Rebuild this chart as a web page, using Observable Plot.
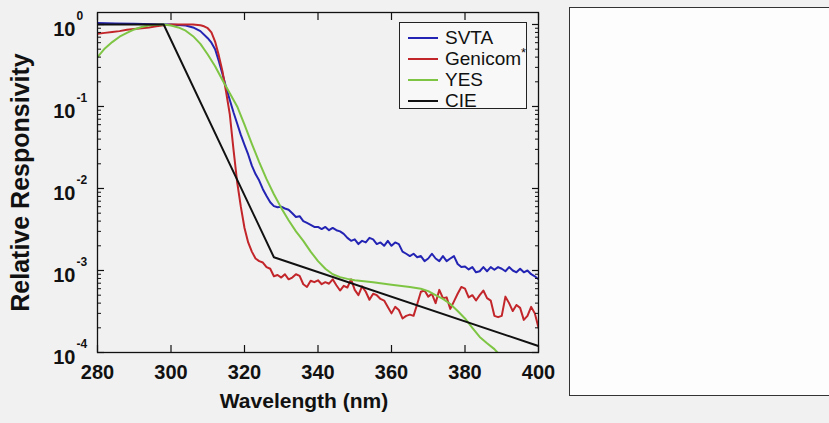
<!DOCTYPE html>
<html>
<head>
<meta charset="utf-8">
<script src="https://cdn.jsdelivr.net/npm/d3@7"></script>
<script src="https://cdn.jsdelivr.net/npm/@observablehq/plot@0.6"></script>
<style>
  html, body { margin: 0; padding: 0; }
  body { width: 829px; height: 423px; background: #f1f1f1; position: relative; overflow: hidden; font-family: "Liberation Sans", Arial, sans-serif; }
  #box { position: absolute; left: 569px; top: 7px; width: 270px; height: 387px; background: #fdfdfd; border: 1px solid #333; }
  #chart { position: absolute; left: 0; top: 0; }
  #legend { position: absolute; left: 399px; top: 22px; width: 126px; height: 85px; border: 1px solid #222; background: #f8f8f8; font-size: 19px; color: #111; }
  #legend .row { position: absolute; left: 0; width: 126px; height: 21px; line-height: 21px; white-space: nowrap; }
  #legend .sw { position: absolute; left: 8px; top: 10px; width: 30px; height: 2px; }
  #legend .lab { position: absolute; left: 45px; top: 0; height: 21px; line-height: 21px; }
  #legend sup { font-size: 13px; line-height: 0; vertical-align: 0; position: relative; top: -8px; }
</style>
</head>
<body>
<div id="box"></div>
<div id="chart"></div>
<div id="legend"></div>
<script>
// ---- data ----
const seriesNames = ["SVTA", "Genicom", "YES", "CIE"];
const seriesColors = ["#2424b4", "#c2252a", "#7ec544", "#111111"];

const cieWl = [280, 298, 328, 400];
const cieVal = [1, 1, 0.00145, 0.00012];

const svtaWl = [280, 285, 290, 295, 300, 304, 306, 308, 310, 311, 312, 313, 314, 315, 316, 317, 318, 319, 320, 321, 322, 323, 324, 325, 326, 327, 328, 329, 330, 331, 332, 333, 334, 335, 336, 337, 338, 339, 340, 341, 342, 343, 344, 345, 346, 347, 348, 349, 350, 351, 352, 353, 354, 355, 356, 357, 358, 359, 360, 361, 362, 363, 364, 365, 366, 367, 368, 369, 370, 371, 372, 373, 374, 375, 376, 377, 378, 379, 380, 381, 382, 383, 384, 385, 386, 387, 388, 389, 390, 391, 392, 393, 394, 395, 396, 397, 398, 399, 400];
const svtaVal = [1.04, 1.03, 1.02, 1.01, 1.0, 0.97, 0.92, 0.83, 0.68, 0.6, 0.5, 0.36, 0.25, 0.17, 0.12, 0.085, 0.062, 0.045, 0.034, 0.026, 0.019, 0.015, 0.0125, 0.0098, 0.0081, 0.0068, 0.0061, 0.0059, 0.006, 0.0057, 0.0055, 0.005, 0.0045, 0.0046, 0.004, 0.0038, 0.0036, 0.0034, 0.0034, 0.0032, 0.0034, 0.0031, 0.0033, 0.0031, 0.003, 0.0028, 0.0025, 0.0023, 0.0024, 0.0021, 0.0023, 0.0022, 0.0025, 0.0024, 0.0021, 0.0022, 0.002, 0.0023, 0.002, 0.0022, 0.0021, 0.0017, 0.0016, 0.0015, 0.0016, 0.00145, 0.0015, 0.0013, 0.0014, 0.0016, 0.0014, 0.0013, 0.0015, 0.0013, 0.0014, 0.0015, 0.0012, 0.0011, 0.00112, 0.00103, 0.0011, 0.00095, 0.00098, 0.0011, 0.00098, 0.0011, 0.00102, 0.0011, 0.00105, 0.00098, 0.0011, 0.001, 0.00095, 0.00105, 0.00095, 0.001, 0.0009, 0.00085, 0.00078];

const genWl = [280, 282, 284, 286, 288, 290, 292, 294, 296, 298, 300, 303, 306, 308, 309, 310, 311, 312, 313, 314, 315, 316, 317, 318, 319, 320, 321, 322, 323, 324, 325, 326, 327, 328, 329, 330, 331, 332, 333, 334, 335, 336, 337, 338, 339, 340, 341, 342, 343, 344, 345, 346, 347, 348, 349, 350, 351, 352, 353, 354, 355, 356, 357, 358, 359, 360, 361, 362, 363, 364, 365, 366, 367, 368, 369, 370, 371, 372, 373, 374, 375, 376, 377, 378, 379, 380, 381, 382, 383, 384, 385, 386, 387, 388, 389, 390, 391, 392, 393, 394, 395, 396, 397, 398, 399, 400];
const genVal = [0.77, 0.79, 0.81, 0.83, 0.86, 0.88, 0.9, 0.92, 0.95, 0.98, 1.0, 1.0, 1.0, 0.98, 0.95, 0.9, 0.8, 0.62, 0.42, 0.27, 0.15, 0.08, 0.03, 0.012, 0.006, 0.0033, 0.0022, 0.0017, 0.0014, 0.0013, 0.00125, 0.0011, 0.00105, 0.00085, 0.00088, 0.00082, 0.0009, 0.00078, 0.00082, 0.0009, 0.00086, 0.00068, 0.00063, 0.00075, 0.00072, 0.00076, 0.00068, 0.00072, 0.00069, 0.00078, 0.00066, 0.00057, 0.00065, 0.00062, 0.00078, 0.00058, 0.0005, 0.00064, 0.00055, 0.00044, 0.00052, 0.0005, 0.00045, 0.00043, 0.00036, 0.0003, 0.00036, 0.00033, 0.00026, 0.00028, 0.00029, 0.00028, 0.00039, 0.00055, 0.00057, 0.00048, 0.00052, 0.0004, 0.00058, 0.00046, 0.00047, 0.00034, 0.00042, 0.00052, 0.00063, 0.0006, 0.00047, 0.0005, 0.00043, 0.0005, 0.00057, 0.00046, 0.00043, 0.00028, 0.00027, 0.00028, 0.00048, 0.0004, 0.00032, 0.00038, 0.00035, 0.00025, 0.00028, 0.00036, 0.0003, 0.0002];

const yesWl = [280, 282, 284, 286, 288, 290, 292, 294, 296, 298, 300, 302, 304, 306, 308, 310, 312, 314, 316, 318, 320, 322, 324, 326, 328, 330, 332, 334, 336, 338, 340, 342, 344, 346, 348, 350, 355, 360, 365, 368, 370, 372, 374, 376, 378, 380, 382, 384, 386, 388, 390];
const yesVal = [0.4, 0.51, 0.61, 0.71, 0.79, 0.87, 0.93, 0.97, 0.99, 1.0, 0.97, 0.92, 0.84, 0.72, 0.58, 0.43, 0.31, 0.21, 0.145, 0.1, 0.06, 0.035, 0.021, 0.013, 0.0085, 0.0058, 0.0041, 0.003, 0.0023, 0.0017, 0.0013, 0.00105, 0.0009, 0.00083, 0.00079, 0.00076, 0.00072, 0.00067, 0.00063, 0.0006, 0.00056, 0.0005, 0.00045, 0.00039, 0.00032, 0.00026, 0.0002, 0.000155, 0.00013, 0.00011, 0.000088];

const xTicks = [280, 300, 320, 340, 360, 380, 400];
const yDecades = [1e-4, 1e-3, 1e-2, 1e-1, 1];
const yExponents = ["-4", "-3", "-2", "-1", "0"];

// ---- build table ----
const wlArrays = [svtaWl, genWl, yesWl, cieWl];
const valArrays = [svtaVal, genVal, yesVal, cieVal];
const rows = [];
seriesNames.forEach((name, s) => {
  wlArrays[s].forEach((w, i) => rows.push({series: name, wl: w, v: valArrays[s][i]}));
});
const minorTicks = [];
for (let e = -4; e <= 0; e++) for (let m = 2; m <= 9; m++) { const t = m * Math.pow(10, e); if (t <= 1.4) minorTicks.push(t); }
const decadeRows = yDecades.map((d, i) => ({d, e: yExponents[i]}));

const font = "Liberation Sans, Arial, sans-serif";
const chart = Plot.plot({
  width: 829,
  height: 423,
  marginLeft: 97,
  marginRight: 291,
  marginTop: 12,
  marginBottom: 71,
  style: {background: "transparent", fontFamily: font, color: "#111"},
  x: {domain: [280, 400]},
  y: {type: "log", domain: [1e-4, 1.4]},
  color: {domain: seriesNames, range: seriesColors},
  marks: [
    Plot.line(rows, {x: "wl", y: "v", z: "series", stroke: "series", strokeWidth: 2, clip: true}),
    // inward ticks
    Plot.axisX({anchor: "bottom", ticks: xTicks, tickSize: -7, tickFormat: () => "", label: null, strokeWidth: 1.2}),
    Plot.axisX({anchor: "top", ticks: xTicks, tickSize: -7, tickFormat: () => "", label: null, strokeWidth: 1.2}),
    Plot.axisY({anchor: "left", ticks: yDecades, tickSize: -7, tickFormat: () => "", label: null, strokeWidth: 1.2}),
    Plot.axisY({anchor: "right", ticks: yDecades, tickSize: -7, tickFormat: () => "", label: null, strokeWidth: 1.2}),
    Plot.axisY({anchor: "left", ticks: minorTicks, tickSize: -4, tickFormat: () => "", label: null}),
    Plot.axisY({anchor: "right", ticks: minorTicks, tickSize: -4, tickFormat: () => "", label: null}),
    // x tick labels
    Plot.axisX({anchor: "bottom", ticks: xTicks, tickSize: 0, tickPadding: 12, tickFormat: d => String(d), label: null, fontSize: 20, fontWeight: "bold"}),
    // y tick labels 10^n
    Plot.text(decadeRows, {y: "d", text: () => "10", frameAnchor: "left", dx: -22, dy: 5, textAnchor: "end", fontSize: 20, fontWeight: "bold"}),
    Plot.text(decadeRows, {y: "d", text: "e", frameAnchor: "left", dx: -21, dy: -8, textAnchor: "start", fontSize: 12, fontWeight: "bold"}),
    // axis titles
    Plot.text(["Wavelength (nm)"], {frameAnchor: "bottom", text: d => d, dx: -14, dy: 55, fontSize: 21, fontWeight: "bold"}),
    Plot.text(["Relative Responsivity"], {frameAnchor: "left", text: d => d, rotate: -90, textAnchor: "middle", dx: -77, fontSize: 25, fontWeight: "bold"}),
    Plot.frame({stroke: "#111", strokeWidth: 1.3})
  ]
});
document.getElementById("chart").appendChild(chart);

// legend
const legend = document.getElementById("legend");
seriesNames.forEach((name, i) => {
  const row = document.createElement("div");
  row.className = "row";
  row.style.top = (3.5 + i * 21) + "px";
  const sw = document.createElement("div");
  sw.className = "sw";
  sw.style.background = seriesColors[i];
  const lab = document.createElement("div");
  lab.className = "lab";
  lab.innerHTML = name + (name === "Genicom" ? "<sup>*</sup>" : "");
  row.appendChild(sw); row.appendChild(lab);
  legend.appendChild(row);
});
</script>
</body>
</html>
